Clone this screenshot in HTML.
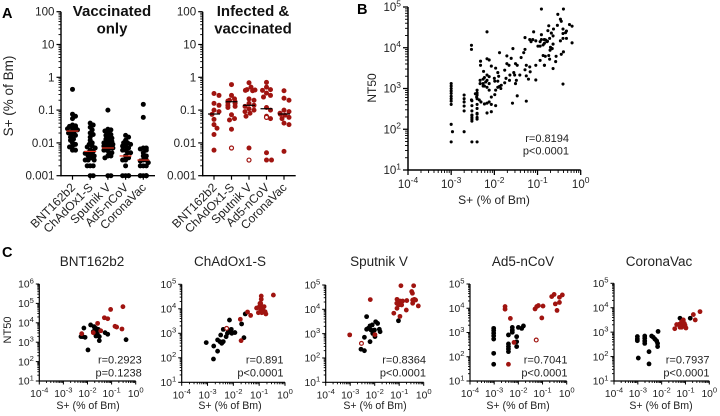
<!DOCTYPE html>
<html lang="en">
<head>
<meta charset="utf-8">
<title>S+ memory B cells and NT50</title>
<style>
html,body{margin:0;padding:0;background:#fff}
svg{display:block;font-family:"Liberation Sans",Arial,sans-serif;fill:#222}
text{fill:#222}
.letter{font-size:14.5px;font-weight:bold;fill:#000}
.bold-title{font-size:15px;font-weight:bold;text-anchor:middle;fill:#111}
.c-title{font-size:13.5px;text-anchor:middle}
.stat-b{font-size:11px;text-anchor:end}
.stat-c{font-size:11px;text-anchor:end}
</style>
</head>
<body>
<svg id="figure" width="720" height="416" viewBox="0 0 720 416" xmlns="http://www.w3.org/2000/svg">
  <text class="letter" x="2" y="18">A</text>
  <text class="letter" x="357" y="14">B</text>
  <text class="letter" x="2" y="257">C</text>

  <text class="bold-title" x="112" y="16">Vaccinated</text>
  <text class="bold-title" x="112" y="33.5">only</text>
  <text class="bold-title" x="253" y="16">Infected &amp;</text>
  <text class="bold-title" x="253" y="33.5">vaccinated</text>
  <text font-size="13.5" text-anchor="middle" transform="translate(13,96) rotate(-90)">S+ (% of Bm)</text>

  <text font-size="12" text-anchor="middle" transform="translate(376,88) rotate(-90)">NT50</text>
  <text font-size="12" text-anchor="middle" x="494" y="204">S+ (% of Bm)</text>
  <text class="stat-b" x="569" y="142">r=0.8194</text>
  <text class="stat-b" x="569" y="154.5">p&lt;0.0001</text>

  <text class="c-title" x="92" y="266">BNT162b2</text>
  <text class="c-title" x="230" y="266">ChAdOx1-S</text>
  <text class="c-title" x="379" y="266">Sputnik V</text>
  <text class="c-title" x="523" y="266">Ad5-nCoV</text>
  <text class="c-title" x="659" y="266">CoronaVac</text>

  <text font-size="11" text-anchor="middle" transform="translate(11,330) rotate(-90)">NT50</text>
  <text font-size="10.6" text-anchor="middle" x="88" y="409">S+ (% of Bm)</text>
  <text font-size="10.6" text-anchor="middle" x="230" y="409">S+ (% of Bm)</text>
  <text font-size="10.6" text-anchor="middle" x="375" y="409">S+ (% of Bm)</text>
  <text font-size="10.6" text-anchor="middle" x="518" y="409">S+ (% of Bm)</text>
  <text font-size="10.6" text-anchor="middle" x="661" y="409">S+ (% of Bm)</text>

  <text class="stat-c" x="141.7" y="363.5">r=0.2923</text>
  <text class="stat-c" x="141.7" y="376.5">p=0.1238</text>
  <text class="stat-c" x="283.5" y="363.5">r=0.891</text>
  <text class="stat-c" x="283.5" y="376.5">p&lt;0.0001</text>
  <text class="stat-c" x="426" y="363.5">r=0.8364</text>
  <text class="stat-c" x="426" y="376.5">p&lt;0.0001</text>
  <text class="stat-c" x="567.5" y="363.5">r=0.7041</text>
  <text class="stat-c" x="567.5" y="376.5">p&lt;0.0001</text>
  <text class="stat-c" x="709.5" y="363.5">r=0.7937</text>
  <text class="stat-c" x="709.5" y="376.5">p&lt;0.0001</text>
</svg>

<script>
/* ---------- Panel A data (S+ % of Bm) ---------- */
const categories = ['BNT162b2','ChAdOx1-S','Sputnik V','Ad5-nCoV','CoronaVac'];
const percentTickLabels = ['100','10','1','0.1','0.01','0.001'];
const percentTickValues = [100,10,1,0.1,0.01,0.001];

const vaxBnt = [0.43,0.075,0.065,0.055,0.035,0.033,0.032,0.03,0.028,0.027,0.025,0.023,0.022,0.02,0.018,0.017,0.015,0.013,0.012,0.01,0.009,0.008,0.0075,0.006,0.006];
const vaxChad = [0.04,0.035,0.03,0.025,0.02,0.018,0.015,0.012,0.01,0.009,0.008,0.0075,0.007,0.006,0.0055,0.005,0.0048,0.0045,0.004,0.004,0.0035,0.003,0.003,0.003,0.002,0.002,0.002,0.001,0.001];
const vaxSputnik = [0.1,0.026,0.025,0.023,0.02,0.018,0.017,0.015,0.014,0.013,0.012,0.011,0.01,0.01,0.009,0.009,0.008,0.008,0.007,0.007,0.006,0.006,0.005,0.005,0.004,0.004,0.0035,0.001,0.001];
const vaxAd5 = [0.017,0.015,0.012,0.01,0.01,0.009,0.008,0.008,0.007,0.006,0.006,0.005,0.005,0.004,0.0035,0.003,0.003,0.002,0.001,0.001,0.001,0.001];
const vaxCorona = [0.15,0.06,0.007,0.007,0.0065,0.006,0.005,0.004,0.004,0.003,0.003,0.0028,0.0025,0.002,0.002,0.002,0.001,0.001,0.001,0.001,0.001,0.001];
const vaxMedians = [0.023,0.0055,0.007,0.004,0.003];

const infBnt = [0.32,0.28,0.16,0.14,0.1,0.09,0.074,0.052,0.036,0.028,0.018,0.006];
const infChad = [0.6,0.28,0.22,0.2,0.19,0.18,0.17,0.16,0.14,0.13,0.12,0.072,0.055,0.05,0.026];
const infSputnik = [0.68,0.5,0.42,0.41,0.4,0.39,0.22,0.2,0.16,0.14,0.13,0.11,0.1,0.09,0.08,0.065,0.007];
const infAd5 = [0.7,0.5,0.42,0.4,0.33,0.28,0.25,0.12,0.1,0.065,0.055,0.005,0.003,0.003];
const infCorona = [0.39,0.23,0.2,0.1,0.09,0.08,0.075,0.07,0.06,0.055,0.04,0.036,0.0055];
const infOpenChad = [0.007];
const infOpenSputnik = [0.003];
const infOpenAd5 = [0.06];
const infMedians = [0.076,0.18,0.14,0.11,0.076];

/* ---------- Panel B data (log10 values) ---------- */
const decadesX = [-4,-3,-2,-1,0];
const decadesY5 = [1,2,3,4,5];
const decadesY6 = [1,2,3,4,5,6];

const allLogS = [
-3,-3,-3,-3,-3,-3,-3,-3,-3,-3,-3,-2.97,
-2.7,-2.7,-2.7,-2.7,-2.7,-2.7,
-2.52,-2.52,-2.52,-2.52,-2.52,-2.52,-2.52,-2.52,-2.52,
-2.4,-2.4,-2.4,-2.4,-2.4,-2.4,-2.4,-2.4,-2.4,-2.4,-2.4,
-2.17,-2.53,-2.53,-2.32,-2.32,-2.17,-2.12,-1.88,-1.57,-1.71,-2.07,-1.97,-1.92,-1.76,-2.25,-2.17,-2.12,-2.23,-2.26,-2.33,-2.33,-2.26,-2.2,-2.17,-2.12,-2.23,-2.17,-2.12,-1.99,-1.92,-2.26,
-1.71,-1.66,-1.61,-1.51,-1.47,-1.64,-1.55,-1.53,-1.41,-1.26,-1.21,-1.04,-1.38,-1.29,-1.32,-1.26,-1.29,-1.18,-1.17,-1.04,-0.84,-1.29,-1.09,-1.18,-1.15,-1.11,-1.04,-0.99,-0.94,-0.91,-0.84,-0.78,-0.87,
-1.47,-1.26,-1.58,-2.07,-2.17,-2.12,-2.23,-2.31,-2.35,-2.41,-2.44,-2.07,-1.99,-1.97,-1.92,-1.84,-1.76,-1.88,-1.73,-1.51,-1.49,-1.97,-2.17,-2.07,-2.53,-2.0,-1.9,-1.65,-1.85,
-0.91,-0.40,-0.53,-0.47,-0.45,-0.26,-0.20,-0.74,-0.54,-0.63,-0.41,-0.33,-0.41,-0.35,-0.76,-0.68,-0.64,-0.41,-0.33,-0.47,-0.2,-0.72,-0.91,-0.84,-0.81,-0.77,-0.84,-0.64,-0.94,-0.70,-0.66,-0.71,-0.40,-0.45,-0.87,-0.82,-0.74,-0.72,-0.57,-0.58,-0.94,-0.84,-0.64,-0.41];
const allLogNT = [
3.12,3.06,3.0,2.94,2.88,2.81,2.75,2.69,2.61,2.12,1.69,1.94,
2.84,2.75,2.67,2.57,2.45,1.94,
2.7,2.58,2.45,2.34,2.29,2.35,2.25,2.2,1.69,
2.96,2.89,2.84,2.75,2.61,2.51,2.39,2.29,2.37,2.25,1.69,
4.39,4.06,3.96,3.67,3.57,3.73,3.70,3.88,3.98,3.80,3.55,3.50,3.39,3.45,3.42,3.33,3.29,3.27,3.23,3.2,3.12,3.12,3.16,3.2,3.12,3.06,3.03,2.96,3.18,3.18,3.06,
3.61,3.57,3.74,3.61,3.57,3.33,3.39,3.33,3.33,3.31,3.23,3.21,3.76,3.96,3.88,3.57,3.46,3.53,3.41,3.57,3.57,4.25,4.39,4.2,4.15,4.2,4.17,4.04,4.15,4.32,4.2,4.15,4.07,
2.82,2.69,2.64,2.61,2.64,2.67,2.62,2.67,2.72,2.79,2.87,2.79,2.85,2.96,3.03,3.08,3.14,3.05,3.25,3.12,3.2,2.58,2.40,2.43,2.72,3.25,3.3,3.2,3.0,
4.95,4.95,4.82,4.70,4.65,4.57,4.53,4.54,4.55,4.46,4.46,4.41,4.35,4.37,4.42,4.36,4.29,4.23,4.23,4.17,4.12,4.23,4.2,4.2,4.19,4.16,4.11,4.09,4.04,4.01,3.98,3.94,3.90,3.84,3.81,3.79,3.81,3.72,3.79,3.66,3.69,3.57,3.49,3.11];

/* ---------- Panel C data (log10 values) ---------- */
const bntBlackS = [-2.15,-2.2,-2.1,-1.87,-1.73,-1.65,-1.62,-1.69,-1.55,-1.76,-1.67,-1.59,-1.65,-1.51,-1.51,-1.27,-1.16,-0.4,-1.98,-2.27];
const bntBlackNT = [3.73,3.29,3.25,3.89,3.8,3.71,3.63,3.66,3.66,3.54,3.46,3.42,3.32,3.29,3.08,3.49,3.41,3.13,2.6,3.29];
const bntRedS = [-2.24,-1.76,-1.58,-1.45,-1.3,-1.16,-1.04,-0.86,-0.79,-0.57,-0.53];
const bntRedNT = [3.44,3.49,3.97,3.59,4.26,4.21,4.69,3.82,3.78,3.68,4.83];

const chadBlackS = [-3.05,-2.76,-2.61,-2.77,-2.61,-2.52,-2.45,-2.39,-2.49,-2.39,-2.23,-2.15,-2.28,-2.19,-2.08,-1.94,-2.06,-1.68,-1.59,-1.54];
const chadBlackNT = [2.62,2.48,2.27,1.95,2.73,2.66,2.59,2.66,2.93,3.16,3.0,3.54,2.86,3.07,3.16,3.03,3.0,3.38,2.82,3.79];
const chadRedS = [-1.7,-1.73,-1.45,-1.33,-0.45,-0.92,-0.92,-0.97,-1.1,-0.99,-0.94,-0.9,-0.86,-0.81,-1.03,-0.9,-0.77,-0.74,-0.94,-0.84];
const chadRedNT = [2.7,3.57,3.87,3.73,4.56,4.52,4.39,4.22,4.03,4.09,4.22,4.09,4.02,4.09,3.84,3.84,3.88,3.79,3.95,3.93];
const chadOpenS = [-2.26];
const chadOpenNT = [3.2];

const sputBlackS = [-2.33,-2.56,-2.42,-2.42,-2.33,-2.19,-2.1,-2.15,-2.26,-2.19,-1.99,-1.96,-1.88,-1.81,-1.78,-2.01,-2.08,-1.03];
const sputBlackNT = [3.7,2.36,2.3,2.85,3.18,3.32,3.36,3.15,3.22,2.67,2.88,3.49,3.42,3.18,3.08,3.15,3.01,3.53];
const sputRedS = [-3.02,-2.18,-1.99,-1.22,-0.97,-0.93,-0.41,-0.49,-0.46,-1.09,-0.97,-1.1,-0.9,-1.03,-1.09,-0.9,-0.86,-0.69,-0.45,-0.33,-0.45,-0.38,-0.22,-0.71];
const sputRedNT = [2.95,4.4,2.96,3.84,3.71,4.97,4.97,4.73,4.66,4.41,4.34,4.25,4.32,4.18,4.04,4.18,4.34,4.36,4.38,4.38,4.25,4.41,4.14,3.97];
const sputOpenS = [-2.54];
const sputOpenNT = [2.6];

const ad5BlackS = [-3.02,-3.02,-3.02,-3.02,-3.02,-3.02,-3.02,-2.41,-2.41,-2.41,-2.41,-2.41,-2.25,-2.25,-2.25,-2.07,-2.07,-2.07,-2.0,-1.86,-1.79];
const ad5BlackNT = [3.17,3.08,2.97,2.86,2.73,2.14,1.69,2.9,2.53,2.42,2.32,2.21,3.21,3.1,3.01,2.83,2.62,2.42,3.21,3.17,3.27];
const ad5RedS = [-2.55,-2.55,-2.33,-2.18,-2.41,-1.31,-1.24,-1.17,-0.98,-1.03,-0.62,-0.52,-0.3,-0.18,-0.47,-0.3,-0.4];
const ad5RedNT = [4.07,3.96,3.58,2.59,1.69,3.97,4.07,4.11,4.09,3.6,4.48,4.57,4.45,4.55,4.18,4.24,3.91];
const ad5OpenS = [-1.26];
const ad5OpenNT = [2.69];

const coronaBlackS = [-3.02,-3.02,-3.02,-2.98,-2.71,-2.71,-2.71,-2.71,-2.53,-2.53,-2.42,-2.35,-2.28,-2.21,-2.17,-2.17,-2.15,-1.23,-0.8];
const coronaBlackNT = [2.82,2.72,2.65,1.94,2.84,2.75,2.64,2.54,2.2,1.7,2.84,2.79,2.71,2.64,2.54,2.41,3.03,3.57,3.57];
const coronaRedS = [-1.45,-1.37,-1.26,-1.16,-1.09,-1.12,-1.16,-0.98,-1.02,-0.67,-0.59,-0.39,-1.23,-1.05];
const coronaRedNT = [3.14,3.31,3.32,3.43,3.5,3.29,3.2,3.17,3.29,3.72,3.5,3.84,3.2,3.36];

/* ---------- Drawing ---------- */
const SVG_NS = 'http://www.w3.org/2000/svg';
const figure = document.getElementById('figure');
const RED = '#a01410';
const INK = '#000';

function linear(d0, d1, r0, r1) {
  return function (v) { return r0 + (v - d0) * (r1 - r0) / (d1 - d0); };
}
function node(tag, parent) {
  const el = document.createElementNS(SVG_NS, tag);
  parent.appendChild(el);
  return el;
}
function group(name) {
  const g = node('g', figure);
  
  
  return g;
}
function line(parent, name, x1, y1, x2, y2, width, color) {
  const l = node('line', parent);
  
  
  l.setAttribute('x1', x1);
  l.setAttribute('y1', y1);
  l.setAttribute('x2', x2);
  l.setAttribute('y2', y2);
  l.setAttribute('stroke', color || INK);
  l.setAttribute('stroke-width', width);
  return l;
}
function dot(parent, name, cx, cy, r, color, open) {
  const c = node('circle', parent);
  
  
  c.setAttribute('cx', cx);
  c.setAttribute('cy', cy);
  c.setAttribute('r', open ? r - 0.6 : r);
  c.setAttribute('fill', open ? '#fff' : color);
  if (open) {
    c.setAttribute('stroke', color);
    c.setAttribute('stroke-width', 1.2);
  }
  return c;
}
function label(parent, name, x, y, size, anchor, str, sup) {
  const t = node('text', parent);
  
  
  t.setAttribute('x', x);
  t.setAttribute('y', y);
  t.setAttribute('font-size', size);
  t.setAttribute('text-anchor', anchor);
  t.textContent = str;
  if (sup !== undefined) {
    const s = node('tspan', t);
    s.setAttribute('dy', -size * 0.42);
    s.setAttribute('font-size', size * 0.74);
    s.textContent = sup;
  }
  return t;
}
/* minor ticks: 2..9 inside every decade */
function minors(parent, name, lo, hi, pos, draw) {
  for (let d = lo; d < hi; d++) {
    for (let m = 2; m < 10; m++) {
      draw(pos(d + Math.log10(m)));
    }
  }
}

/* ---------- Panel A: swarm strips ---------- */
function swarm(values, yOf, cx, gap, maxOff) {
  const placed = [];
  values.forEach(function (v) {
    const y = yOf(v);
    let chosen = null;
    for (let k = 0; k <= maxOff * 2 && chosen === null; k++) {
      const off = (k % 2 ? 1 : -1) * Math.ceil(k / 2);
      const x = cx + off;
      const clear = placed.every(function (p) {
        return Math.hypot(p.x - x, p.y - y) >= gap;
      });
      if (clear) chosen = x;
    }
    if (chosen === null) {
      chosen = cx + ((placed.length % 2) ? maxOff * 0.6 : -maxOff * 0.6);
    }
    placed.push({ x: chosen, y: y, v: v });
  });
  return placed;
}
function stripPanel(name, axisX, axisEnd, firstCat, stepCat, gap, maxOff, series, medians, opens, color, medianColor) {
  const g = group(name);
  const top = 11.7, bottom = 175.7;
  const yOf = function (v) { return linear(-3, 2, bottom, top)(Math.log10(v)); };
  const yLog = linear(-3, 2, bottom, top);
  line(g, 'y-axis-line', axisX, top, axisX, bottom + 0.6, 1.4);
  line(g, 'x-axis-line', axisX - 0.6, bottom, axisEnd, bottom, 1.4);
  percentTickValues.forEach(function (v, i) {
    line(g, 'y-major-tick', axisX - 4.5, yOf(v), axisX, yOf(v), 1.2);
    label(g, 'y-tick-label', axisX - 6.5, yOf(v) + 4, 11.6, 'end', percentTickLabels[i]);
  });
  minors(g, 'y-minor-tick', -3, 2, yLog, function (y) {
    line(g, 'y-minor-tick', axisX - 2.5, y, axisX, y, 0.9);
  });
  series.forEach(function (values, i) {
    const cx = firstCat + i * stepCat;
    line(g, 'x-category-tick', cx, bottom, cx, bottom + 4, 1.2);
    const lab = label(g, 'category-label', 0, 0, 12, 'end', categories[i]);
    lab.setAttribute('transform', 'translate(' + (cx + 3.5) + ',' + (bottom + 12.5) + ') rotate(-45)');
    swarm(values, yOf, cx, gap, maxOff).forEach(function (p) {
      dot(g, 'sample-dot', p.x, p.y, 2.5, color);
    });
    opens[i].forEach(function (v) {
      dot(g, 'open-sample-dot', cx, yOf(v), 2.6, color, true);
    });
    line(g, 'median-line', cx - 6, yOf(medians[i]), cx + 6, yOf(medians[i]), 1.2, medianColor);
  });
}
stripPanel('vaccinated-only-panel', 61, 155, 72.5, 17.7, 3, 5,
  [vaxBnt, vaxChad, vaxSputnik, vaxAd5, vaxCorona], vaxMedians,
  [[], [], [], [], []], '#000', '#e8301c');
stripPanel('infected-vaccinated-panel', 202.7, 295.7, 214, 17.5, 4.5, 6,
  [infBnt, infChad, infSputnik, infAd5, infCorona], infMedians,
  [[], infOpenChad, infOpenSputnik, infOpenAd5, []], RED, '#000');

/* ---------- Log-log scatter panels ---------- */
function logAxes(g, yDecades, left, right, top, bottom, opts) {
  const xOf = linear(-4, 0, left, right);
  const yMin = yDecades[0], yMax = yDecades[yDecades.length - 1];
  const yOf = linear(yMin, yMax, bottom, top);
  line(g, 'y-axis-line', left, top, left, bottom + 0.6, opts.lw);
  line(g, 'x-axis-line', left - 0.6, bottom, right, bottom, opts.lw);
  decadesX.forEach(function (d) {
    line(g, 'x-major-tick', xOf(d), bottom, xOf(d), bottom + opts.major, opts.lw * 0.85);
    label(g, 'x-tick-label', xOf(d), bottom + opts.xLabelDy, opts.font, 'middle', '10', String(d));
  });
  minors(g, 'x-minor-tick', -4, 0, xOf, function (x) {
    line(g, 'x-minor-tick', x, bottom, x, bottom + opts.minor, 0.9);
  });
  yDecades.forEach(function (d) {
    line(g, 'y-major-tick', left - opts.major, yOf(d), left, yOf(d), opts.lw * 0.85);
    label(g, 'y-tick-label', left - opts.yLabelGap, yOf(d) + opts.font * 0.36, opts.font, 'end', '10', String(d));
  });
  minors(g, 'y-minor-tick', yMin, yMax, yOf, function (y) {
    line(g, 'y-minor-tick', left - opts.minor, y, left, y, 0.9);
  });
  return { xOf: xOf, yOf: yOf };
}
function scatterSeries(g, axes, name, xs, ys, r, color, open) {
  xs.forEach(function (s, i) {
    dot(g, name, axes.xOf(s), axes.yOf(ys[i]), r, color, open);
  });
}

const bGroup = group('all-vaccines-scatter-panel');
const bAxes = logAxes(bGroup, decadesY5, 408, 580.7, 7, 170, { lw: 1.5, major: 5, minor: 3, font: 11.5, xLabelDy: 18, yLabelGap: 7 });
scatterSeries(bGroup, bAxes, 'participant-dot', allLogS, allLogNT, 1.55, '#000', false);

const cOpts = { lw: 1.2, major: 3.5, minor: 2, font: 10.3, xLabelDy: 16, yLabelGap: 5.5 };
function vaccinePanel(name, yDecades, left, right, top, bottom, blackS, blackNT, redS, redNT, openS, openNT) {
  const g = group(name);
  const axes = logAxes(g, yDecades, left, right, top, bottom, cOpts);
  scatterSeries(g, axes, 'vaccinated-only-dot', blackS, blackNT, 2.4, '#000', false);
  scatterSeries(g, axes, 'infected-vaccinated-dot', redS, redNT, 2.4, RED, false);
  scatterSeries(g, axes, 'open-dot', openS, openNT, 2.5, RED, true);
}
vaccinePanel('bnt162b2-panel', decadesY6, 39.3, 135.7, 284, 381, bntBlackS, bntBlackNT, bntRedS, bntRedNT, [], []);
vaccinePanel('chadox1-s-panel', decadesY5, 181.7, 285, 284.3, 382.3, chadBlackS, chadBlackNT, chadRedS, chadRedNT, chadOpenS, chadOpenNT);
vaccinePanel('sputnik-v-panel', decadesY5, 325.7, 423.7, 285, 382.3, sputBlackS, sputBlackNT, sputRedS, sputRedNT, sputOpenS, sputOpenNT);
vaccinePanel('ad5-ncov-panel', decadesY5, 470, 566.7, 284, 381, ad5BlackS, ad5BlackNT, ad5RedS, ad5RedNT, ad5OpenS, ad5OpenNT);
vaccinePanel('coronavac-panel', decadesY5, 614, 709.3, 283.3, 381, coronaBlackS, coronaBlackNT, coronaRedS, coronaRedNT, [], []);
</script>
</body>
</html>
